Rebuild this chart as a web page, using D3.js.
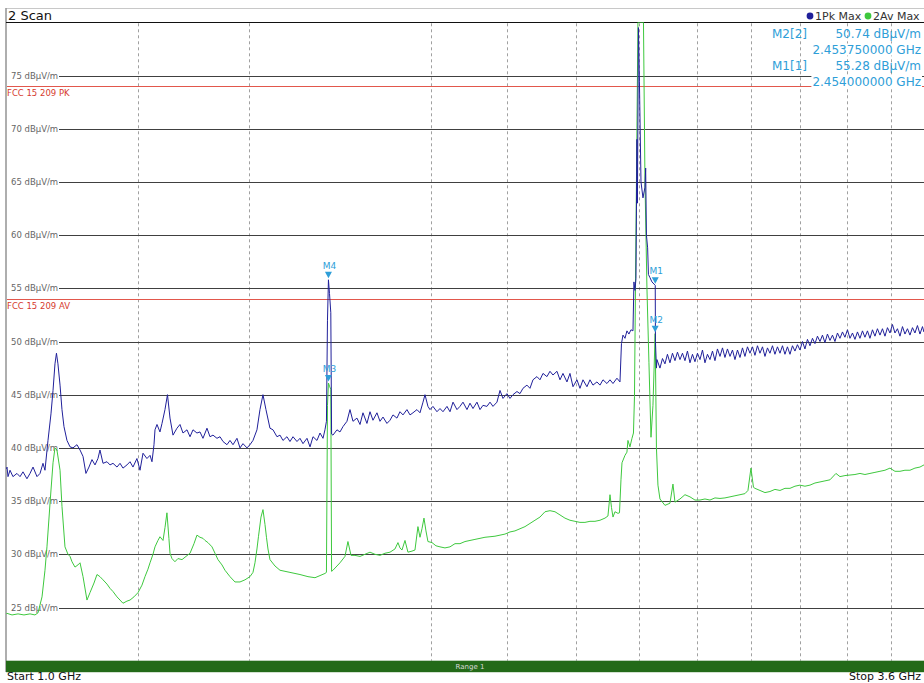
<!DOCTYPE html>
<html><head><meta charset="utf-8">
<script src="https://cdn.jsdelivr.net/npm/d3@7"></script>
<style>body{margin:0;background:#fff;}svg{display:block;font-family:"DejaVu Sans",Verdana,sans-serif;}</style>
</head><body><svg id="c" width="924" height="683"></svg>
<script>
// ---------- data ----------
const title = "2 Scan";
const yTicks = [25,30,35,40,45,50,55,60,65,70,75];
const yUnit = "dBµV/m";
const xGrid = [1.2,1.4,1.8,2.0,2.2,2.4,2.6,2.8,3.0,3.2,3.4];
const xDomain = [1.0,3.6];
const yDomain = [20,80];
const startLabel = "Start 1.0 GHz", stopLabel = "Stop 3.6 GHz", rangeLabel = "Range 1";
const limitNames = ["FCC 15 209 PK","FCC 15 209 AV"];
const limitValues = [74,54];
const traceNames = ["1Pk Max","2Av Max"];
// [frequency GHz, level dBµV/m]
const pkMax = [[1.0000,38.0],[1.0011,38.2],[1.0025,37.3],[1.0053,37.9],[1.0094,37.3],[1.0150,37.6],[1.0193,37.3],[1.0235,37.75],[1.0291,37.1],[1.0335,37.6],[1.0378,38.2],[1.0435,37.3],[1.0479,37.6],[1.0522,38.55],[1.0551,37.9],[1.0595,40.7],[1.0639,43.2],[1.0669,45.4],[1.0698,47.9],[1.0720,48.9],[1.0742,47.9],[1.0773,45.9],[1.0802,43.6],[1.0832,42.0],[1.0877,40.7],[1.0923,40.1],[1.0968,40.0],[1.1028,40.3],[1.1075,39.8],[1.1121,39.2],[1.1166,37.6],[1.1213,38.2],[1.1260,38.9],[1.1307,38.4],[1.1353,39.0],[1.1385,39.8],[1.1433,38.55],[1.1496,38.7],[1.1544,38.4],[1.1592,38.55],[1.1656,38.2],[1.1705,38.55],[1.1753,38.1],[1.1818,38.4],[1.1868,38.7],[1.1917,38.2],[1.1982,39.0],[1.2033,37.9],[1.2083,39.5],[1.2149,39.0],[1.2201,39.3],[1.2234,38.7],[1.2268,40.3],[1.2285,41.7],[1.2319,42.2],[1.2370,41.5],[1.2405,42.3],[1.2456,43.6],[1.2499,45.0],[1.2543,42.8],[1.2595,41.2],[1.2664,41.85],[1.2717,42.2],[1.2770,41.4],[1.2841,41.7],[1.2895,41.05],[1.2948,41.7],[1.3019,41.4],[1.3074,41.5],[1.3128,40.9],[1.3201,41.85],[1.3256,41.05],[1.3311,41.2],[1.3385,40.9],[1.3441,41.05],[1.3497,40.6],[1.3571,40.3],[1.3628,40.7],[1.3685,40.3],[1.3760,40.9],[1.3818,40.0],[1.3875,40.4],[1.3952,40.0],[1.4010,40.3],[1.4068,40.7],[1.4146,41.7],[1.4205,43.6],[1.4264,45.0],[1.4323,43.6],[1.4403,41.85],[1.4463,41.7],[1.4543,41.05],[1.4604,41.2],[1.4664,40.7],[1.4745,41.05],[1.4807,40.6],[1.4869,41.05],[1.4951,40.6],[1.5013,40.9],[1.5076,40.4],[1.5159,40.9],[1.5223,40.1],[1.5286,41.05],[1.5370,40.7],[1.5435,41.4],[1.5499,40.9],[1.5541,41.7],[1.5573,42.5],[1.5595,52.0],[1.5616,55.8],[1.5639,54.5],[1.5667,52.7],[1.5684,41.3],[1.5714,41.2],[1.5801,41.7],[1.5867,41.5],[1.5933,42.0],[1.6021,42.5],[1.6088,43.6],[1.6155,42.5],[1.6244,42.8],[1.6313,42.2],[1.6380,43.3],[1.6470,42.3],[1.6540,43.4],[1.6608,42.6],[1.6700,43.3],[1.6770,42.5],[1.6840,42.9],[1.6932,42.3],[1.7004,42.6],[1.7074,43.1],[1.7168,42.8],[1.7240,43.4],[1.7312,43.1],[1.7407,43.6],[1.7481,43.1],[1.7553,43.3],[1.7650,43.6],[1.7724,43.3],[1.7798,44.3],[1.7847,45.0],[1.7920,43.9],[1.7971,43.6],[1.8045,43.9],[1.8145,43.4],[1.8221,43.7],[1.8297,43.4],[1.8398,43.9],[1.8475,43.4],[1.8552,44.3],[1.8654,43.6],[1.8732,43.9],[1.8810,44.3],[1.8914,43.6],[1.8993,44.2],[1.9072,43.7],[1.9177,44.3],[1.9258,43.6],[1.9337,44.0],[1.9444,43.9],[1.9526,44.3],[1.9607,43.9],[1.9715,44.3],[1.9798,45.4],[1.9880,44.65],[1.9989,45.1],[2.0073,44.65],[2.0157,45.0],[2.0268,45.3],[2.0353,45.1],[2.0437,45.6],[2.0550,45.9],[2.0636,45.6],[2.0722,46.4],[2.0836,46.7],[2.0924,46.4],[2.1011,47.0],[2.1126,46.7],[2.1215,47.2],[2.1303,46.85],[2.1421,47.2],[2.1511,46.4],[2.1600,47.0],[2.1719,46.2],[2.1810,47.0],[2.1901,45.75],[2.2022,46.4],[2.2114,45.6],[2.2206,46.4],[2.2328,45.75],[2.2422,46.4],[2.2515,45.9],[2.2639,46.2],[2.2734,45.9],[2.2829,46.4],[2.2954,46.05],[2.3051,46.4],[2.3147,46.05],[2.3274,46.55],[2.3372,46.2],[2.3420,49.8],[2.3469,50.6],[2.3534,50.3],[2.3598,51.0],[2.3663,50.7],[2.3730,51.1],[2.3796,51.0],[2.3828,55.6],[2.3861,54.8],[2.3894,55.9],[2.3927,69.0],[2.3943,63.0],[2.3976,79.5],[2.4009,74.4],[2.4061,65.0],[2.4127,63.5],[2.4194,64.5],[2.4217,66.3],[2.4243,60.0],[2.4283,58.8],[2.4310,56.3],[2.4362,56.0],[2.4429,55.6],[2.4497,55.4],[2.4540,55.28],[2.4547,50.0],[2.4581,47.5],[2.4598,48.3],[2.4701,47.5],[2.4787,48.4],[2.4872,47.9],[2.4958,48.8],[2.5045,48.0],[2.5132,48.9],[2.5219,48.2],[2.5306,49.0],[2.5394,48.3],[2.5482,48.9],[2.5570,48.2],[2.5658,49.1],[2.5748,48.0],[2.5837,48.8],[2.5926,48.1],[2.6016,48.9],[2.6107,48.3],[2.6197,49.2],[2.6287,48.0],[2.6378,48.8],[2.6470,48.3],[2.6562,49.1],[2.6653,48.2],[2.6745,49.3],[2.6839,48.6],[2.6932,49.4],[2.7024,48.5],[2.7118,49.3],[2.7213,48.6],[2.7307,49.2],[2.7401,48.3],[2.7496,49.2],[2.7592,48.5],[2.7687,49.4],[2.7782,48.6],[2.7879,49.5],[2.7976,48.9],[2.8073,49.5],[2.8169,48.7],[2.8267,49.6],[2.8365,48.9],[2.8464,49.5],[2.8562,48.6],[2.8661,49.4],[2.8760,48.9],[2.8860,49.6],[2.8959,48.8],[2.9060,49.5],[2.9161,48.9],[2.9262,49.6],[2.9363,48.8],[2.9464,49.5],[2.9567,48.8],[2.9669,49.6],[2.9772,49.1],[2.9875,49.7],[2.9979,49.2],[3.0083,50.0],[3.0186,49.3],[3.0291,50.2],[3.0396,49.6],[3.0502,50.3],[3.0607,49.8],[3.0713,50.5],[3.0820,50.0],[3.0926,50.6],[3.1033,49.9],[3.1140,50.7],[3.1249,50.1],[3.1357,50.6],[3.1465,50.0],[3.1574,50.8],[3.1684,50.3],[3.1794,50.9],[3.1903,50.4],[3.2014,51.1],[3.2125,50.3],[3.2237,50.8],[3.2348,50.2],[3.2460,50.9],[3.2573,50.3],[3.2686,51.0],[3.2798,50.4],[3.2912,51.0],[3.3026,50.3],[3.3141,51.1],[3.3255,50.5],[3.3370,51.2],[3.3486,50.6],[3.3602,51.2],[3.3718,50.5],[3.3835,51.3],[3.3953,50.8],[3.4070,51.6],[3.4188,50.8],[3.4306,51.2],[3.4426,50.5],[3.4545,51.4],[3.4664,50.7],[3.4784,51.2],[3.4905,50.6],[3.5026,51.3],[3.5146,50.8],[3.5268,51.5],[3.5391,50.7],[3.5514,51.4],[3.5587,50.9],[3.5760,51.5],[3.5884,51.0],[3.6000,51.3]];
const avMax = [[1.0000,24.4],[1.0011,24.45],[1.0081,24.3],[1.0165,24.4],[1.0249,24.3],[1.0335,24.4],[1.0406,24.3],[1.0450,24.5],[1.0508,26.0],[1.0551,28.5],[1.0580,30.7],[1.0625,34.8],[1.0669,38.6],[1.0698,40.0],[1.0727,39.8],[1.0773,37.9],[1.0802,34.5],[1.0847,30.7],[1.0892,30.0],[1.0923,29.8],[1.0953,29.3],[1.0998,28.8],[1.1043,29.0],[1.1075,29.2],[1.1121,27.9],[1.1182,25.7],[1.1229,26.4],[1.1291,27.3],[1.1338,28.1],[1.1385,27.9],[1.1433,27.6],[1.1496,27.2],[1.1544,26.8],[1.1592,26.5],[1.1656,26.0],[1.1705,25.7],[1.1753,25.4],[1.1818,25.6],[1.1868,25.7],[1.1933,26.0],[1.2000,26.4],[1.2066,27.1],[1.2116,27.9],[1.2166,28.6],[1.2201,29.2],[1.2251,30.0],[1.2285,30.7],[1.2335,31.3],[1.2370,31.65],[1.2422,31.3],[1.2456,32.5],[1.2490,33.9],[1.2524,31.5],[1.2543,30.1],[1.2577,29.6],[1.2629,29.3],[1.2681,29.6],[1.2753,29.5],[1.2823,29.8],[1.2895,30.1],[1.2966,31.0],[1.3019,31.8],[1.3074,31.6],[1.3128,31.5],[1.3165,31.3],[1.3219,31.1],[1.3293,30.7],[1.3348,30.1],[1.3403,29.5],[1.3478,29.0],[1.3534,28.5],[1.3628,27.9],[1.3722,27.4],[1.3818,27.4],[1.3913,27.6],[1.4010,27.9],[1.4068,28.3],[1.4107,29.2],[1.4146,30.5],[1.4175,31.65],[1.4225,33.5],[1.4264,34.2],[1.4304,32.8],[1.4333,31.6],[1.4363,30.5],[1.4403,29.5],[1.4503,28.9],[1.4604,28.5],[1.4807,28.3],[1.5013,28.1],[1.5180,27.9],[1.5328,27.8],[1.5435,28.0],[1.5541,28.2],[1.5573,28.3],[1.5595,44.0],[1.5616,46.1],[1.5639,45.8],[1.5667,45.5],[1.5684,28.4],[1.5714,28.5],[1.5801,28.9],[1.5867,29.2],[1.5977,29.8],[1.6043,31.2],[1.6111,29.9],[1.6200,29.9],[1.6313,29.8],[1.6425,30.0],[1.6540,30.2],[1.6654,30.0],[1.6770,29.9],[1.6886,30.1],[1.7004,30.2],[1.7121,30.5],[1.7192,31.1],[1.7240,30.6],[1.7288,30.4],[1.7360,31.3],[1.7431,30.2],[1.7529,30.3],[1.7601,30.4],[1.7674,32.6],[1.7724,31.6],[1.7773,32.4],[1.7822,33.4],[1.7871,32.2],[1.7920,31.2],[1.8021,31.1],[1.8120,30.8],[1.8221,30.7],[1.8347,30.6],[1.8475,30.7],[1.8603,31.0],[1.8732,31.0],[1.8862,31.2],[1.8993,31.3],[1.9124,31.4],[1.9258,31.5],[1.9391,31.6],[1.9526,31.65],[1.9661,31.7],[1.9798,31.8],[1.9935,31.9],[2.0073,32.1],[2.0212,32.2],[2.0353,32.4],[2.0494,32.6],[2.0636,32.9],[2.0779,33.2],[2.0924,33.5],[2.1069,34.0],[2.1215,34.1],[2.1362,34.0],[2.1511,33.7],[2.1659,33.4],[2.1810,33.2],[2.1961,33.1],[2.2114,33.0],[2.2267,33.0],[2.2422,33.1],[2.2577,33.1],[2.2734,33.2],[2.2892,33.4],[2.2986,33.6],[2.3051,35.6],[2.3099,34.4],[2.3147,33.5],[2.3210,34.0],[2.3306,33.85],[2.3356,33.9],[2.3404,37.0],[2.3437,38.6],[2.3534,39.3],[2.3598,39.6],[2.3631,40.7],[2.3697,40.1],[2.3763,40.9],[2.3812,41.4],[2.3845,44.8],[2.3894,60.0],[2.3927,70.0],[2.3960,84.0],[2.4061,86.0],[2.4144,84.0],[2.4194,65.0],[2.4260,55.0],[2.4327,48.0],[2.4396,41.0],[2.4463,44.0],[2.45375,50.74],[2.4581,40.0],[2.4632,36.5],[2.4701,35.2],[2.4872,34.6],[2.5045,34.8],[2.5149,36.6],[2.5219,34.9],[2.5394,35.2],[2.5570,35.6],[2.5748,35.4],[2.5926,35.1],[2.6107,35.1],[2.6287,35.2],[2.6470,35.1],[2.6653,35.3],[2.6839,35.25],[2.7024,35.3],[2.7213,35.4],[2.7401,35.5],[2.7592,35.6],[2.7782,35.7],[2.7897,36.0],[2.8014,38.1],[2.8111,36.3],[2.8169,36.2],[2.8365,36.0],[2.8562,35.8],[2.8760,35.9],[2.8959,36.1],[2.9161,36.0],[2.9363,36.2],[2.9567,36.2],[2.9772,36.4],[2.9979,36.5],[3.0186,36.4],[3.0396,36.5],[3.0607,36.7],[3.0820,36.8],[3.1033,36.9],[3.1249,37.0],[3.1508,37.6],[3.1684,37.3],[3.1903,37.4],[3.2125,37.45],[3.2348,37.5],[3.2573,37.6],[3.2798,37.5],[3.3026,37.6],[3.3255,37.7],[3.3486,37.8],[3.3718,37.9],[3.3953,38.1],[3.4188,37.8],[3.4426,37.8],[3.4664,37.9],[3.4905,37.9],[3.5146,38.1],[3.5391,38.2],[3.5587,38.4],[3.6000,38.6]];
const markerNames = ["M1","M2","M3","M4"];
const markerTrace = [1,2,2,1];
const markerFreq = [2.454,2.45375,1.5616,1.5616];
const markerLevel = [55.28,50.74,46.1,55.8];
const markerTableOrder = [1,0]; // M2 row first, then M1

// ---------- layout / style ----------
const W = 924, H = 683;
const P = {left:6.2, right:932.3, top:22.3, bottom:660.7};
const C = {pk:"#20209a", av:"#3ec83e", mk:"#2e9ed8", lim:"#e2574c", limTxt:"#d63a2e", grid:"#404040", vgrid:"#a0a0a0"};

const svg = d3.select("#c");
const x = d3.scaleLog().domain(xDomain).range([P.left, P.right]);
const y = d3.scaleLinear().domain(yDomain).range([P.bottom, P.top]).clamp(true);

// frame
svg.append("rect").attr("x",0).attr("y",0).attr("width",W).attr("height",H).attr("fill","#fff");
svg.append("line").attr("x1",6).attr("x2",W).attr("y1",8.5).attr("y2",8.5).attr("stroke","#c8c8c8");
svg.append("line").attr("x1",6).attr("x2",6).attr("y1",8).attr("y2",672).attr("stroke","#9a9a9a").attr("stroke-width",1.6);
svg.append("line").attr("x1",6).attr("x2",W).attr("y1",22.5).attr("y2",22.5).attr("stroke","#111").attr("stroke-width",1);
svg.append("text").attr("x",8).attr("y",19.5).attr("font-size",13).attr("fill","#111").text(title);

// legend in header
const legX = [810, 868];
[C.pk, C.av].forEach((c,i)=>{
  svg.append("circle").attr("cx",legX[i]).attr("cy",16).attr("r",3.4).attr("fill",c);
  svg.append("text").attr("x",legX[i]+5).attr("y",20).attr("font-size",11).attr("fill","#333").text(traceNames[i]);
});

// vertical dashed grid
svg.append("g").selectAll("line").data(xGrid).join("line")
  .attr("x1",d=>Math.round(x(d))+0.5).attr("x2",d=>Math.round(x(d))+0.5)
  .attr("y1",P.top+1).attr("y2",P.bottom)
  .attr("stroke",C.vgrid).attr("stroke-width",1).attr("stroke-dasharray","3,3");

// horizontal grid + labels
const gy = svg.append("g");
gy.selectAll("line").data(yTicks).join("line")
  .attr("x1",7).attr("x2",W)
  .attr("y1",d=>Math.round(y(d))+0.5).attr("y2",d=>Math.round(y(d))+0.5)
  .attr("stroke",C.grid).attr("stroke-width",1);
const yl = gy.selectAll("g.yl").data(yTicks).join("g").attr("class","yl");
yl.append("rect").attr("x",7).attr("y",d=>y(d)-5).attr("width",52).attr("height",10).attr("fill","#fff");
yl.append("text").attr("x",11).attr("y",d=>y(d)+3).attr("font-size",8.5).attr("fill","#666")
  .text(d=>d+" "+yUnit);

// limit lines
limitValues.forEach((v,i)=>{
  svg.append("line").attr("x1",7).attr("x2",W).attr("y1",Math.round(y(v))+0.5).attr("y2",Math.round(y(v))+0.5)
    .attr("stroke",C.lim).attr("stroke-width",1);
  svg.append("text").attr("x",7).attr("y",y(v)+10).attr("font-size",8.5).attr("fill",C.limTxt).text(limitNames[i]);
});

// traces
svg.append("clipPath").attr("id","pc").append("rect")
  .attr("x",P.left).attr("y",P.top).attr("width",W-P.left).attr("height",P.bottom-P.top);
const line = d3.line().x(d=>x(d[0])).y(d=>y(d[1]));
const tg = svg.append("g").attr("clip-path","url(#pc)");
tg.append("path").datum(avMax).attr("d",line).attr("fill","none").attr("stroke",C.av).attr("stroke-width",1);
tg.append("path").datum(pkMax).attr("d",line).attr("fill","none").attr("stroke",C.pk).attr("stroke-width",1);

// markers
markerNames.forEach((m,i)=>{
  const mx = x(markerFreq[i]), my = y(markerLevel[i]);
  svg.append("path").attr("d",`M${mx-3.5},${my-8}L${mx+3.5},${my-8}L${mx},${my-1.5}Z`).attr("fill",C.mk);
  svg.append("text").attr("x",mx+1).attr("y",my-11).attr("text-anchor","middle")
    .attr("font-size",9).attr("fill",C.mk).text(m);
});

// marker table
const rows = [];
markerTableOrder.forEach(i=>{
  rows.push({a:`${markerNames[i]}[${markerTrace[i]}]`, b:`${markerLevel[i].toFixed(2)} ${yUnit}`});
  rows.push({a:"", b:`${markerFreq[i].toFixed(9)} GHz`, freq:true});
});
rows.forEach((r,k)=>{
  const ty = 37.5 + k*16;
  if (r.freq) {
    const t = svg.append("text").attr("x",921).attr("y",ty).attr("text-anchor","end").attr("font-size",12).attr("fill",C.mk).text(r.b);
    const bb = t.node().getBBox();
    svg.insert("rect", () => t.node()).attr("x",bb.x-1).attr("y",bb.y+1).attr("width",bb.width+2).attr("height",bb.height-2).attr("fill","#fff");
  } else {
    svg.append("text").attr("x",772).attr("y",ty).attr("font-size",12).attr("fill",C.mk).text(r.a);
    svg.append("text").attr("x",921).attr("y",ty).attr("text-anchor","end").attr("font-size",12).attr("fill",C.mk).text(r.b);
  }
});

// bottom bar
svg.append("rect").attr("x",6).attr("y",P.bottom).attr("width",W-6).attr("height",11.5).attr("fill","#236a18");
svg.append("text").attr("x",470).attr("y",P.bottom+8.5).attr("text-anchor","middle").attr("font-size",7).attr("fill","#d8d8d8").text(rangeLabel);
svg.append("text").attr("x",7).attr("y",680).attr("font-size",11).attr("fill","#111").text(startLabel);
svg.append("text").attr("x",921).attr("y",680).attr("text-anchor","end").attr("font-size",11).attr("fill","#111").text(stopLabel);
</script></body></html>
